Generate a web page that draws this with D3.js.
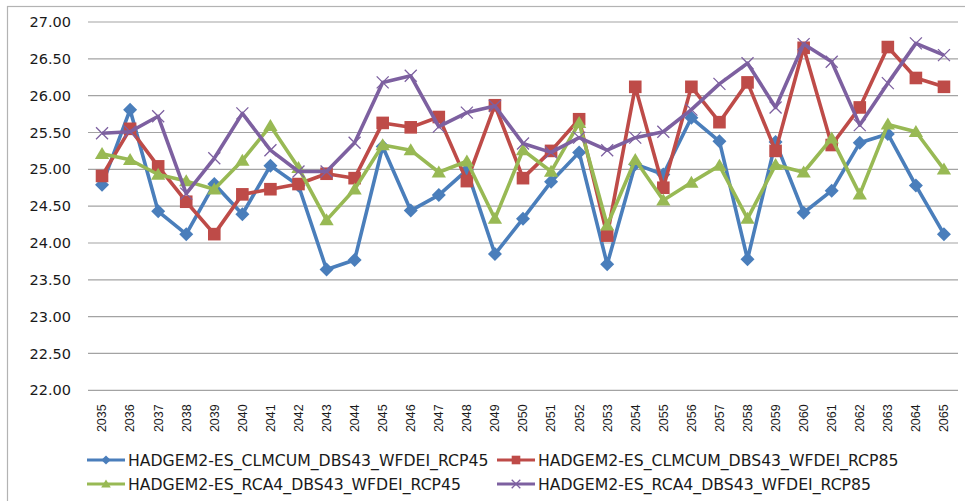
<!DOCTYPE html>
<html>
<head>
<meta charset="utf-8">
<script src="https://cdn.jsdelivr.net/npm/d3@7/dist/d3.min.js"></script>
<style>
  html, body { margin: 0; padding: 0; background: #fff; }
  svg { display: block; }
</style>
</head>
<body>
<svg id="chart" width="965" height="501"></svg>
<script>
// Years on the category axis
const years = d3.range(2035, 2066).map(String);

// Tick values on the value axis
const yTicks = [22, 22.5, 23, 23.5, 24, 24.5, 25, 25.5, 26, 26.5, 27];

// Series names
const seriesNames = [
  "HADGEM2-ES_CLMCUM_DBS43_WFDEI_RCP45",
  "HADGEM2-ES_CLMCUM_DBS43_WFDEI_RCP85",
  "HADGEM2-ES_RCA4_DBS43_WFDEI_RCP45",
  "HADGEM2-ES_RCA4_DBS43_WFDEI_RCP85"
];

// Series values, one per year
const clmcumRcp45 = [24.79, 25.81, 24.43, 24.12, 24.80, 24.39, 25.05, 24.78, 23.64, 23.77,
  25.31, 24.44, 24.65, 24.99, 23.85, 24.33, 24.83, 25.23, 23.71, 25.07,
  24.93, 25.70, 25.38, 23.78, 25.37, 24.41, 24.71, 25.36, 25.48, 24.78, 24.12];
const clmcumRcp85 = [24.91, 25.55, 25.04, 24.56, 24.12, 24.66, 24.73, 24.80, 24.94, 24.88,
  25.63, 25.57, 25.71, 24.84, 25.87, 24.88, 25.25, 25.68, 24.10, 26.12,
  24.75, 26.12, 25.64, 26.18, 25.25, 26.65, 25.33, 25.84, 26.66, 26.24, 26.12];
const rca4Rcp45 = [25.21, 25.13, 24.93, 24.84, 24.73, 25.12, 25.59, 25.02, 24.31, 24.73,
  25.33, 25.26, 24.96, 25.11, 24.33, 25.26, 24.97, 25.63, 24.24, 25.13,
  24.58, 24.82, 25.05, 24.33, 25.06, 24.96, 25.42, 24.66, 25.61, 25.51, 25.00];
const rca4Rcp85 = [25.49, 25.51, 25.72, 24.67, 25.15, 25.76, 25.26, 24.97, 24.97, 25.36,
  26.18, 26.27, 25.58, 25.77, 25.86, 25.35, 25.23, 25.43, 25.26, 25.43,
  25.51, 25.81, 26.16, 26.44, 25.84, 26.70, 26.46, 25.60, 26.17, 26.71, 26.55];

const seriesValues = [clmcumRcp45, clmcumRcp85, rca4Rcp45, rca4Rcp85];
const colors = ["#4A7EBB", "#BE4B48", "#98B954", "#7D60A0"];
const markers = ["diamond", "square", "triangle", "cross"];

const svg = d3.select("#chart");

// Outer chart frame
svg.append("rect")
  .attr("x", 7.5).attr("y", 6.5)
  .attr("width", 970).attr("height", 510)
  .attr("fill", "#fff")
  .attr("stroke", "#b3b3b3").attr("stroke-width", 1.2);

const plot = { left: 88, right: 958, top: 22, bottom: 390.3 };

const x = d3.scaleBand().domain(years).range([plot.left, plot.right]);
const y = d3.scaleLinear().domain([22, 27]).range([plot.bottom, plot.top]);
const cx = d => x(d) + x.bandwidth() / 2;

// Horizontal gridlines
svg.append("g")
  .selectAll("line")
  .data(yTicks)
  .join("line")
  .attr("x1", plot.left).attr("x2", plot.right)
  .attr("y1", d => y(d)).attr("y2", d => y(d))
  .attr("stroke", "#a3a3a3").attr("stroke-width", 1.2);

// Value axis labels
const yAxis = svg.append("g")
  .attr("transform", `translate(${plot.left - 17},0)`)
  .call(d3.axisLeft(y).tickValues(yTicks).tickFormat(d3.format(".2f")).tickSize(0).tickPadding(0));
yAxis.select(".domain").remove();
yAxis.selectAll("text")
  .attr("font-family", "'DejaVu Sans', Verdana, sans-serif")
  .attr("font-size", 14.5)
  .attr("fill", "#1a1a1a");

// Category axis labels, rotated
const xAxis = svg.append("g")
  .attr("transform", `translate(0,${plot.bottom})`)
  .call(d3.axisBottom(x).tickSize(0).tickPadding(0));
xAxis.select(".domain").remove();
xAxis.selectAll("text")
  .attr("font-family", "'Liberation Sans', Arial, sans-serif")
  .attr("font-size", 12.5)
  .attr("fill", "#1a1a1a")
  .attr("text-anchor", "end")
  .attr("transform", "translate(0,14) rotate(-90)")
  .attr("x", 0).attr("y", 0)
  .attr("dy", "0.35em");

// Marker shapes
function drawMarker(g, type, color, s) {
  if (type === "diamond") {
    g.append("path")
      .attr("d", `M0,${-s}L${s},0L0,${s}L${-s},0Z`)
      .attr("fill", color);
  } else if (type === "square") {
    g.append("rect")
      .attr("x", -s).attr("y", -s).attr("width", 2 * s).attr("height", 2 * s)
      .attr("fill", color);
  } else if (type === "triangle") {
    g.append("path")
      .attr("d", `M0,${-s * 1.05}L${s * 1.1},${s * 0.8}L${-s * 1.1},${s * 0.8}Z`)
      .attr("fill", color);
  } else {
    g.append("path")
      .attr("d", `M${-s},${-s}L${s},${s}M${-s},${s}L${s},${-s}`)
      .attr("stroke", color).attr("stroke-width", 1.3).attr("fill", "none");
  }
}

const line = d3.line().x((d, i) => cx(years[i])).y(d => y(d));

seriesValues.forEach((vals, k) => {
  svg.append("path")
    .datum(vals)
    .attr("d", line)
    .attr("fill", "none")
    .attr("stroke", colors[k])
    .attr("stroke-width", 3.6)
    .attr("stroke-linejoin", "round");

  const sizes = [7, 6.3, 6.5, 6];
  vals.forEach((v, i) => {
    const g = svg.append("g").attr("transform", `translate(${cx(years[i])},${y(v)})`);
    drawMarker(g, markers[k], colors[k], sizes[k]);
  });
});

// Legend, two rows by two columns
const legendPos = [
  { x: 87, y: 460 }, { x: 497, y: 460 },
  { x: 87, y: 484 }, { x: 497, y: 484 }
];
const legend = svg.append("g");
seriesNames.forEach((name, k) => {
  const p = legendPos[k];
  const g = legend.append("g").attr("transform", `translate(${p.x},${p.y})`);
  g.append("line")
    .attr("x1", 0).attr("x2", 38).attr("y1", 0).attr("y2", 0)
    .attr("stroke", colors[k]).attr("stroke-width", 3);
  const m = g.append("g").attr("transform", "translate(19,0)");
  drawMarker(m, markers[k], colors[k], [4.6, 4.3, 4.4, 4.3][k]);
  g.append("text")
    .attr("x", 41).attr("y", 0).attr("dy", "0.36em")
    .attr("font-family", "'DejaVu Sans', Verdana, sans-serif")
    .attr("font-size", 15.7)
    .attr("fill", "#1a1a1a")
    .text(name);
});
</script>
</body>
</html>
